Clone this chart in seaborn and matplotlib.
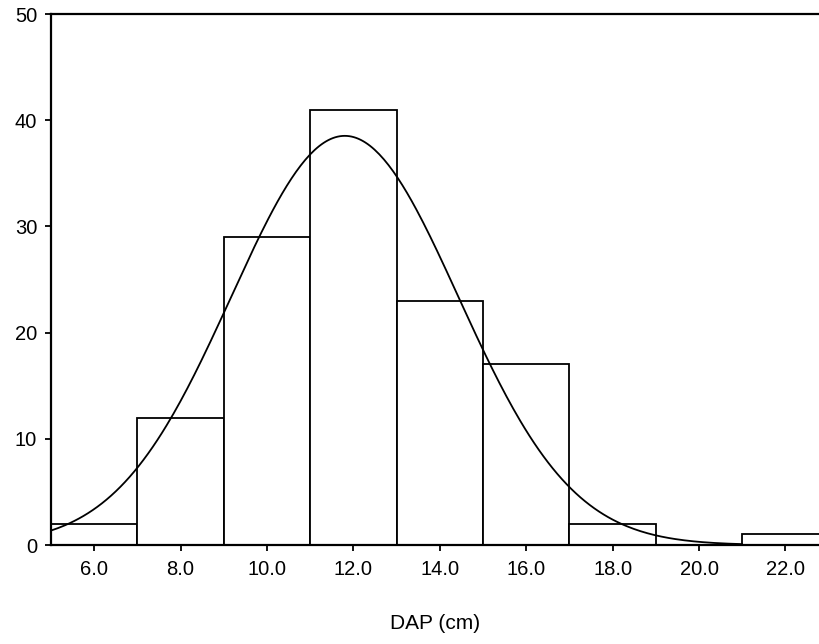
import numpy as np
import pandas as pd
import seaborn as sns
import matplotlib
matplotlib.use("Agg")
import matplotlib.pyplot as plt

# Data
bin_edges = [5, 7, 9, 11, 13, 15, 17, 19, 21, 23]
bin_mids = [6, 8, 10, 12, 14, 16, 18, 20, 22]
counts = [2, 12, 29, 41, 23, 17, 2, 0, 1]
fit_mean = 11.8
fit_sd = 2.63
x_ticks = [6, 8, 10, 12, 14, 16, 18, 20, 22]
x_ticklabels = ["6.0", "8.0", "10.0", "12.0", "14.0", "16.0", "18.0", "20.0", "22.0"]
y_ticks = [0, 10, 20, 30, 40, 50]

sns.set_theme(style="ticks")
plt.rcParams['font.family'] = ['Liberation Sans', 'DejaVu Sans']

fig = plt.figure(figsize=(8.2, 6.44), dpi=100)
ax = fig.add_axes([0.0622, 0.1537, 0.9378, 0.8245])

df = pd.DataFrame({"DAP": bin_mids, "n": counts})
sns.histplot(data=df, x="DAP", weights="n", bins=bin_edges, ax=ax,
             color="white", edgecolor="black", linewidth=1.3, alpha=1)

# fitted normal curve
n_total = sum(counts)
width = bin_edges[1] - bin_edges[0]
xs = np.linspace(5, 21, 300)
ys = n_total * width * np.exp(-0.5 * ((xs - fit_mean) / fit_sd) ** 2) / (fit_sd * np.sqrt(2 * np.pi))
sns.lineplot(x=xs, y=ys, ax=ax, color="black", linewidth=1.3)

ax.set_xlim(5, 22.8)
ax.set_ylim(0, 50)
ax.set_xticks(x_ticks)
ax.set_xticklabels(x_ticklabels)
ax.set_yticks(y_ticks)
ax.set_xlabel("DAP (cm)", fontsize=15, labelpad=25, color="black")
ax.set_ylabel("")
ax.tick_params(axis="both", labelsize=14.5, width=1.3, length=4, color="black", labelcolor="black")
ax.tick_params(axis="x", pad=7)
ax.tick_params(axis="y", pad=6)

for s in ["left", "bottom", "top"]:
    ax.spines[s].set_visible(True)
    ax.spines[s].set_linewidth(1.6)
    ax.spines[s].set_color("black")
ax.spines["right"].set_visible(False)

fig.savefig("out.png", dpi=100)
